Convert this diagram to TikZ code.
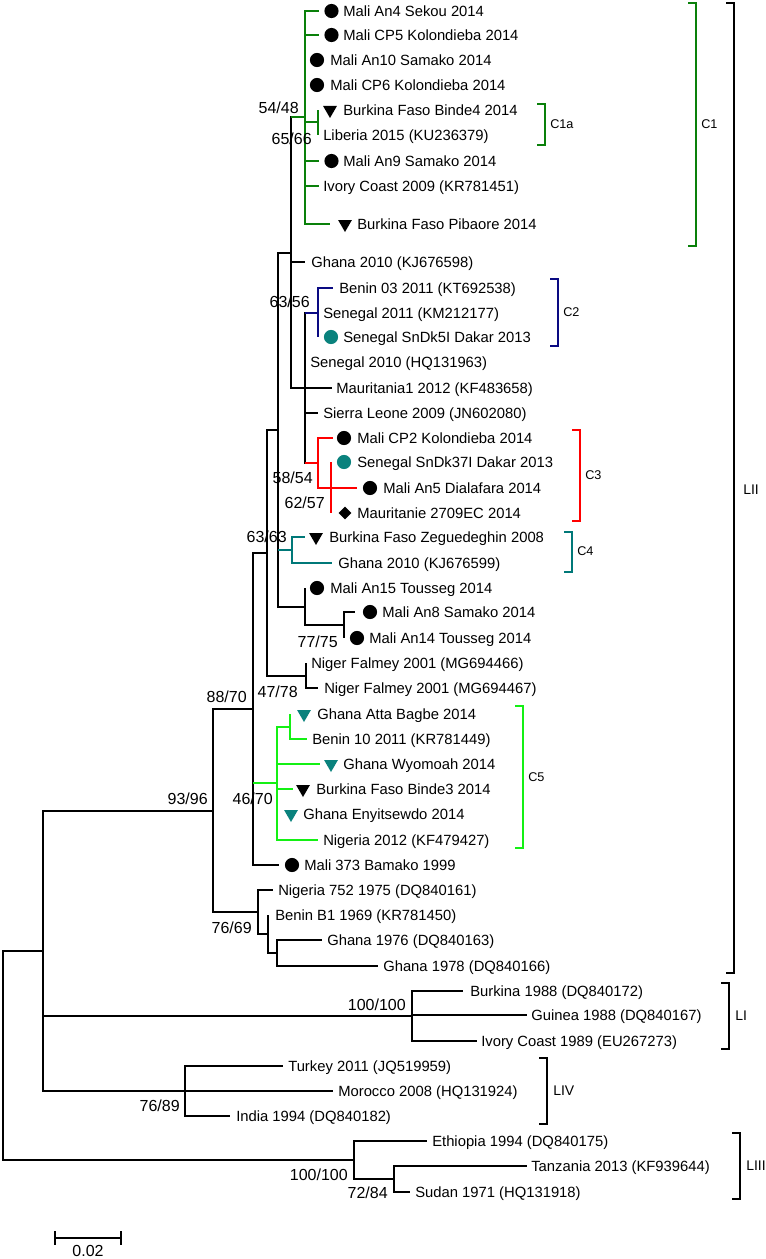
\documentclass[tikz,border=0pt]{standalone}
\usepackage{fontspec}
\setmainfont{Liberation Sans}
\usetikzlibrary{shapes.geometric}
\definecolor{cone}{RGB}{10,128,10}
\definecolor{ctwo}{RGB}{10,10,130}
\definecolor{cthree}{RGB}{255,0,0}
\definecolor{cfour}{RGB}{0,120,120}
\definecolor{cfive}{RGB}{20,240,20}
\definecolor{mteal}{RGB}{10,130,125}
\begin{document}
\begin{tikzpicture}[x=0.75pt,y=-0.75pt,
  br/.style={line width=1.5pt},
  brk/.style={line width=1.5pt},
  leaf/.style={anchor=base west, yshift=-4pt, inner sep=0pt, font=\fontsize{11.1}{13}\selectfont},
  bs/.style={anchor=base east, yshift=-4.3pt, inner sep=0pt, font=\fontsize{12}{14}\selectfont},
  cl/.style={anchor=base west, yshift=-3.4pt, inner sep=0pt, font=\fontsize{9.5}{11}\selectfont},
  ll/.style={anchor=base west, yshift=-3.8pt, inner sep=0pt, font=\fontsize{10.5}{12}\selectfont},
  dot/.style={circle, fill=black, inner sep=0pt, minimum size=10.6pt},
  tri/.style={regular polygon, regular polygon sides=3, shape border rotate=180, fill=black, inner sep=0pt, minimum size=12pt},
  dia/.style={diamond, fill=black, inner sep=0pt, minimum width=9.8pt, minimum height=9.8pt}]
\useasboundingbox (0,0) rectangle (766,1259);

% internal nodes
\coordinate (root) at (3,1055.5);
\coordinate (n43) at (43,951);
\coordinate (nLII) at (213,810.5);
\coordinate (nLI) at (412,1016);
\coordinate (nLIV) at (185,1091);
\coordinate (nLIII) at (354,1160);
\coordinate (n394) at (394,1179);
\coordinate (n258) at (258,912);
\coordinate (n268) at (268,934);
\coordinate (n277b) at (277,953);
\coordinate (n253) at (253,709);
\coordinate (n267) at (267,553);
\coordinate (n278) at (278,430);
\coordinate (n291) at (291,253);
\coordinate (nC1) at (305,117.5);
\coordinate (nC1a) at (318,122.5);
\coordinate (n305) at (305,388);
\coordinate (nC2) at (318,313);
\coordinate (nC3) at (318,463);
\coordinate (n331) at (331,487.5);
\coordinate (nC4) at (292,550);
\coordinate (n305b) at (305,606.5);
\coordinate (n344) at (344,625);
\coordinate (nNi) at (306,675.5);
\coordinate (nC5) at (277,783);
\coordinate (n290) at (290,726.5);

% leaf tips
\coordinate (t1) at (319,11);
\coordinate (t2) at (319,35);
\coordinate (t3) at (305,60);
\coordinate (t4) at (305,85);
\coordinate (t5) at (318,110);
\coordinate (t6) at (318,135);
\coordinate (t7) at (319,161);
\coordinate (t8) at (319,186);
\coordinate (t9) at (330,224);
\coordinate (t10) at (305,262);
\coordinate (t11) at (333,288);
\coordinate (t12) at (318,313);
\coordinate (t13) at (318,337);
\coordinate (t14) at (305,362);
\coordinate (t15) at (332,388);
\coordinate (t16) at (318,413);
\coordinate (t17) at (333,438);
\coordinate (t18) at (331,462);
\coordinate (t19) at (357,488);
\coordinate (t20) at (331,513);
\coordinate (t21) at (305,537);
\coordinate (t22) at (332,563);
\coordinate (t23) at (305,588);
\coordinate (t24) at (355,612);
\coordinate (t25) at (344,638);
\coordinate (t26) at (306,663);
\coordinate (t27) at (318,688);
\coordinate (t28) at (290,714);
\coordinate (t29) at (307,739);
\coordinate (t30) at (320,764);
\coordinate (t31) at (293,789);
\coordinate (t32) at (277,814);
\coordinate (t33) at (318,840);
\coordinate (t34) at (279,865);
\coordinate (t35) at (273,890);
\coordinate (t36) at (268,915);
\coordinate (t37) at (322,940);
\coordinate (t38) at (378,966);
\coordinate (t39) at (463,991);
\coordinate (t40) at (527,1015);
\coordinate (t41) at (477,1041);
\coordinate (t42) at (283,1066);
\coordinate (t43) at (333,1091);
\coordinate (t44) at (230,1116);
\coordinate (t45) at (427,1141);
\coordinate (t46) at (527,1166);
\coordinate (t47) at (410,1192);

% branches
\draw[br] (root) |- (n43) (root) |- (nLIII);
\draw[br] (n43) |- (nLII) (n43) |- (nLI) (n43) |- (nLIV);
\draw[br] (nLI) |- (t39) (nLI) |- (t40) (nLI) |- (t41);
\draw[br] (nLIV) |- (t42) (nLIV) |- (t43) (nLIV) |- (t44);
\draw[br] (nLIII) |- (t45) (nLIII) |- (n394);
\draw[br] (n394) |- (t46) (n394) |- (t47);
\draw[br] (nLII) |- (n253) (nLII) |- (n258);
\draw[br] (n258) |- (t35) (n258) |- (n268);
\draw[br] (n268) |- (t36) (n268) |- (n277b);
\draw[br] (n277b) |- (t37) (n277b) |- (t38);
\draw[br] (n253) |- (n267) (n253) |- (nC5) (n253) |- (t34);
\draw[br,cfive] (n253 |- nC5) -- (nC5);
\draw[br,cfive] (nC5) |- (n290) (nC5) |- (t30) (nC5) |- (t31) (nC5) |- (t32) (nC5) |- (t33);
\draw[br,cfive] (n290) |- (t28) (n290) |- (t29);
\draw[br] (n267) |- (n278) (n267) |- (nNi);
\draw[br] (nNi) |- (t26) (nNi) |- (t27);
\draw[br] (n278) |- (n291) (n278) |- (nC4) (n278) |- (n305b);
\draw[br,cfour] (n278 |- nC4) -- (nC4);
\draw[br,cfour] (nC4) |- (t21) (nC4) |- (t22);
\draw[br] (n305b) |- (t23) (n305b) |- (n344);
\draw[br] (n344) |- (t24) (n344) |- (t25);
\draw[br] (n291) |- (nC1) (n291) |- (t10) (n291) |- (n305);
\draw[br,cone] (n291 |- nC1) -- (nC1);
\draw[br,cone] (nC1) |- (t1) (nC1) |- (t2) (nC1) |- (t3) (nC1) |- (t4) (nC1) |- (nC1a) (nC1) |- (t7) (nC1) |- (t8) (nC1) |- (t9);
\draw[br,cone] (nC1a) |- (t5) (nC1a) |- (t6);
\draw[br] (n305) |- (nC2) (n305) |- (t14) (n305) |- (t15) (n305) |- (t16) (n305) |- (nC3);
\draw[br,ctwo] (n305 |- nC2) -- (nC2);
\draw[br,ctwo] (nC2) |- (t11) (nC2) |- (t12) (nC2) |- (t13);
\draw[br,cthree] (n305 |- nC3) -- (nC3);
\draw[br,cthree] (nC3) |- (t17) (nC3) |- (n331);
\draw[br,cthree] (n331) |- (t18) (n331) |- (t19) (n331) |- (t20);

% markers
\node[dot] (m1) at (331.5,11) {};
\node[dot] (m2) at (331.5,35) {};
\node[dot] (m3) at (317,60) {};
\node[dot] (m4) at (317,85) {};
\node[tri] (m5) at (330,110) {};
\node[dot] (m7) at (331.5,161) {};
\node[tri] (m9) at (345,224) {};
\node[dot,fill=mteal] (m13) at (331,337) {};
\node[dot] (m17) at (344,438) {};
\node[dot,fill=mteal] (m18) at (344,462) {};
\node[dot] (m19) at (370,488) {};
\node[dia] (m20) at (345,513) {};
\node[tri] (m21) at (316,537) {};
\node[dot] (m23) at (317,588) {};
\node[dot] (m24) at (370,612) {};
\node[dot] (m25) at (357,638) {};
\node[tri,fill=mteal] (m28) at (304,714) {};
\node[tri,fill=mteal] (m30) at (331,764) {};
\node[tri] (m31) at (303,789) {};
\node[tri,fill=mteal] (m32) at (291,814) {};
\node[dot] (m34) at (292,865) {};

% leaf labels
\node[leaf] (l1) at (343,11) {Mali An4 Sekou 2014};
\node[leaf] (l2) at (343,35) {Mali CP5 Kolondieba 2014};
\node[leaf] (l3) at (330,60) {Mali An10 Samako 2014};
\node[leaf] (l4) at (330,85) {Mali CP6 Kolondieba 2014};
\node[leaf] (l5) at (343,110) {Burkina Faso Binde4 2014};
\node[leaf] (l6) at (323,135) {Liberia 2015 (KU236379)};
\node[leaf] (l7) at (343,161) {Mali An9 Samako 2014};
\node[leaf] (l8) at (323,186) {Ivory Coast 2009 (KR781451)};
\node[leaf] (l9) at (357,224) {Burkina Faso Pibaore 2014};
\node[leaf] (l10) at (311,262) {Ghana 2010 (KJ676598)};
\node[leaf] (l11) at (339,288) {Benin 03 2011 (KT692538)};
\node[leaf] (l12) at (323,313) {Senegal 2011 (KM212177)};
\node[leaf] (l13) at (343,337) {Senegal SnDk5I Dakar 2013};
\node[leaf] (l14) at (310,362) {Senegal 2010 (HQ131963)};
\node[leaf] (l15) at (336,388) {Mauritania1 2012 (KF483658)};
\node[leaf] (l16) at (323,413) {Sierra Leone 2009 (JN602080)};
\node[leaf] (l17) at (357,438) {Mali CP2 Kolondieba 2014};
\node[leaf] (l18) at (357,462) {Senegal SnDk37I Dakar 2013};
\node[leaf] (l19) at (383,488) {Mali An5 Dialafara 2014};
\node[leaf] (l20) at (357,513) {Mauritanie 2709EC 2014};
\node[leaf] (l21) at (329,537) {Burkina Faso Zeguedeghin 2008};
\node[leaf] (l22) at (338,563) {Ghana 2010 (KJ676599)};
\node[leaf] (l23) at (330,588) {Mali An15 Tousseg 2014};
\node[leaf] (l24) at (382,612) {Mali An8 Samako 2014};
\node[leaf] (l25) at (369,638) {Mali An14 Tousseg 2014};
\node[leaf] (l26) at (311,663) {Niger Falmey 2001 (MG694466)};
\node[leaf] (l27) at (324,688) {Niger Falmey 2001 (MG694467)};
\node[leaf] (l28) at (317,714) {Ghana Atta Bagbe 2014};
\node[leaf] (l29) at (312,739) {Benin 10 2011 (KR781449)};
\node[leaf] (l30) at (343,764) {Ghana Wyomoah 2014};
\node[leaf] (l31) at (316,789) {Burkina Faso Binde3 2014};
\node[leaf] (l32) at (303,814) {Ghana Enyitsewdo 2014};
\node[leaf] (l33) at (323,840) {Nigeria 2012 (KF479427)};
\node[leaf] (l34) at (304,865) {Mali 373 Bamako 1999};
\node[leaf] (l35) at (278,890) {Nigeria 752 1975 (DQ840161)};
\node[leaf] (l36) at (275,915) {Benin B1 1969 (KR781450)};
\node[leaf] (l37) at (327,940) {Ghana 1976 (DQ840163)};
\node[leaf] (l38) at (383,966) {Ghana 1978 (DQ840166)};
\node[leaf] (l39) at (470,991) {Burkina 1988 (DQ840172)};
\node[leaf] (l40) at (531,1015) {Guinea 1988 (DQ840167)};
\node[leaf] (l41) at (481,1041) {Ivory Coast 1989 (EU267273)};
\node[leaf] (l42) at (288,1066) {Turkey 2011 (JQ519959)};
\node[leaf] (l43) at (338,1091) {Morocco 2008 (HQ131924)};
\node[leaf] (l44) at (236,1116) {India 1994 (DQ840182)};
\node[leaf] (l45) at (432,1141) {Ethiopia 1994 (DQ840175)};
\node[leaf] (l46) at (531,1166) {Tanzania 2013 (KF939644)};
\node[leaf] (l47) at (415,1192) {Sudan 1971 (HQ131918)};

% bootstrap values
\node[bs] (b1) at (299,108) {54/48};
\node[bs] (b2) at (312,139) {65/66};
\node[bs] (b3) at (310,302) {63/56};
\node[bs] (b4) at (313,478) {58/54};
\node[bs] (b5) at (325,503) {62/57};
\node[bs] (b6) at (287,537) {63/63};
\node[bs] (b7) at (338,642) {77/75};
\node[bs] (b8) at (298,692) {47/78};
\node[bs] (b9) at (247,697) {88/70};
\node[bs] (b10) at (208,799) {93/96};
\node[bs] (b11) at (273,799) {46/70};
\node[bs] (b12) at (252,928) {76/69};
\node[bs] (b13) at (406,1005) {100/100};
\node[bs] (b14) at (180,1106) {76/89};
\node[bs] (b15) at (348,1175) {100/100};
\node[bs] (b16) at (388,1193) {72/84};

% clade brackets
\coordinate (kC1t) at (696,3);   \coordinate (kC1b) at (696,246);
\coordinate (kC1at) at (545,104); \coordinate (kC1ab) at (545,145);
\coordinate (kC2t) at (558,279); \coordinate (kC2b) at (558,346);
\coordinate (kC3t) at (580,430); \coordinate (kC3b) at (580,521);
\coordinate (kC4t) at (572,532); \coordinate (kC4b) at (572,572);
\coordinate (kC5t) at (523,706); \coordinate (kC5b) at (523,848);
\coordinate (kLIIt) at (734,3);  \coordinate (kLIIb) at (734,973);
\coordinate (kLIt) at (729,983); \coordinate (kLIb) at (729,1049);
\coordinate (kLIVt) at (547,1058); \coordinate (kLIVb) at (547,1124);
\coordinate (kLIIIt) at (740,1133); \coordinate (kLIIIb) at (740,1199);
\draw[brk,cone] ([xshift=-6pt]kC1t) -- (kC1t) -- (kC1b) -- ([xshift=-6pt]kC1b);
\draw[brk,cone] ([xshift=-6pt]kC1at) -- (kC1at) -- (kC1ab) -- ([xshift=-6pt]kC1ab);
\draw[brk,ctwo] ([xshift=-6pt]kC2t) -- (kC2t) -- (kC2b) -- ([xshift=-6pt]kC2b);
\draw[brk,cthree] ([xshift=-6pt]kC3t) -- (kC3t) -- (kC3b) -- ([xshift=-6pt]kC3b);
\draw[brk,cfour] ([xshift=-6pt]kC4t) -- (kC4t) -- (kC4b) -- ([xshift=-6pt]kC4b);
\draw[brk,cfive] ([xshift=-6pt]kC5t) -- (kC5t) -- (kC5b) -- ([xshift=-6pt]kC5b);
\draw[brk] ([xshift=-6pt]kLIIt) -- (kLIIt) -- (kLIIb) -- ([xshift=-6pt]kLIIb);
\draw[brk] ([xshift=-6pt]kLIt) -- (kLIt) -- (kLIb) -- ([xshift=-6pt]kLIb);
\draw[brk] ([xshift=-6pt]kLIVt) -- (kLIVt) -- (kLIVb) -- ([xshift=-6pt]kLIVb);
\draw[brk] ([xshift=-6pt]kLIIIt) -- (kLIIIt) -- (kLIIIb) -- ([xshift=-6pt]kLIIIb);

\node[cl] (gC1) at (701,124) {C1};
\node[cl] (gC1a) at (550,124) {C1a};
\node[cl] (gC2) at (563,312) {C2};
\node[cl] (gC3) at (585,475) {C3};
\node[cl] (gC4) at (577,551) {C4};
\node[cl] (gC5) at (528,777) {C5};
\node[ll] (gLII) at (743,489) {LII};
\node[ll] (gLI) at (735,1015) {LI};
\node[ll] (gLIV) at (553,1090) {LIV};
\node[ll] (gLIII) at (746,1165) {LIII};

% scale bar
\coordinate (sbL) at (55,1238);
\coordinate (sbR) at (121,1238);
\draw[br] (sbL) -- (sbR);
\draw[br] ([yshift=5pt]sbL) -- ([yshift=-5pt]sbL);
\draw[br] ([yshift=5pt]sbR) -- ([yshift=-5pt]sbR);
\node[anchor=base, yshift=-4.3pt, inner sep=0pt, font=\fontsize{12}{14}\selectfont] (sbT) at (88,1251) {0.02};
\end{tikzpicture}
\end{document}
